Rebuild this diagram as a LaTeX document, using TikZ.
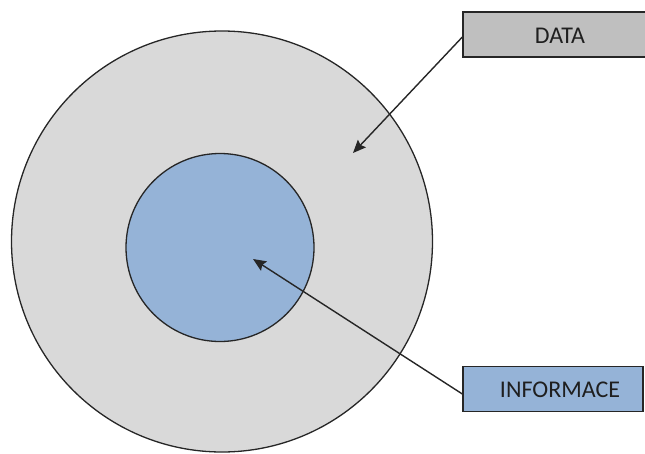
\documentclass[tikz,border=0pt]{standalone}
\usepackage{fontspec}
\setmainfont{Carlito}
\usetikzlibrary{arrows.meta}
\definecolor{outerfill}{HTML}{D9D9D9}
\definecolor{innerfill}{HTML}{95B3D7}
\definecolor{datafill}{HTML}{BFBFBF}
\definecolor{edgecol}{HTML}{262626}
\begin{document}
\begin{tikzpicture}[x=1pt,y=-1pt,
  ring/.style={circle,draw=edgecol,line width=1.3pt,inner sep=0pt},
  labelbox/.style={rectangle,draw=edgecol,line width=1.3pt,inner sep=0pt,minimum height=45pt},
  labeltext/.style={font=\fontsize{24}{28}\selectfont,text=black!88,inner sep=0pt},
  pointer/.style={draw=black!85,line width=1.4pt,-{Stealth[length=13pt,width=11pt,inset=2pt]}}
]
\useasboundingbox (0,0) rectangle (645,453);
% nested circles
\node[ring,fill=outerfill,minimum size=421pt] (outer) at (222,241.5) {};
\node[ring,fill=innerfill,minimum size=188pt] (inner) at (220,247.5) {};
% label boxes
\node[labelbox,fill=datafill,minimum width=200pt] (databox) at (563,34.5) {};
\node[labelbox,fill=innerfill,minimum width=180pt] (infobox) at (553,389) {};
\node[labeltext] (datatext) at (560,36) {DATA};
\node[labeltext] (infotext) at (560,390) {INFORMACE};
% arrow targets
\coordinate (datatip) at (353,153);
\coordinate (infotip) at (253,259);
\draw[pointer] ([yshift=-2.5pt]databox.west) -- (datatip);
\draw[pointer] ([yshift=-5pt]infobox.west) -- (infotip);
\end{tikzpicture}
\end{document}
